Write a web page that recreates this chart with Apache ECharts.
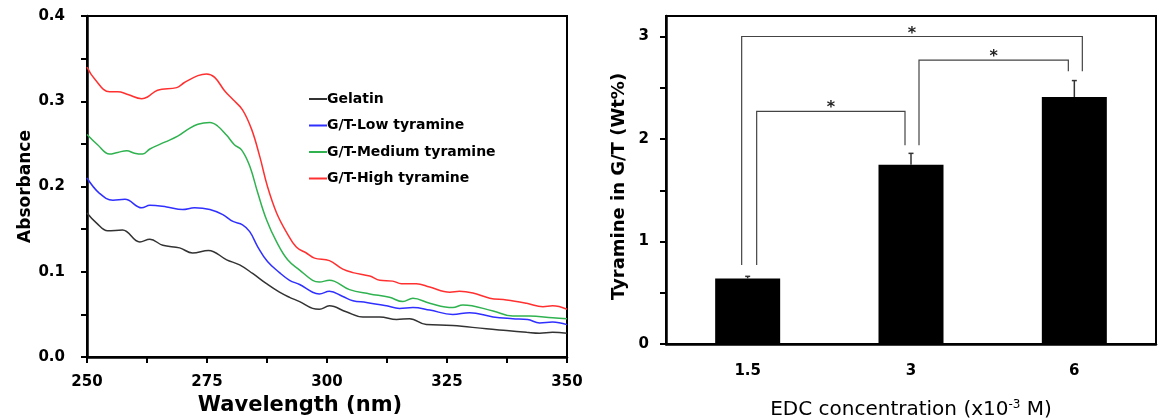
<!DOCTYPE html>
<html><head><meta charset="utf-8">
<script src="https://cdn.jsdelivr.net/npm/echarts/dist/echarts.min.js"></script>
<style>html,body{margin:0;padding:0;background:#fff}#c{width:1158px;height:420px}</style>
</head><body><div id="c"></div>
<script>
// ---- Left panel: UV-Vis absorbance spectra ----
const seriesNames = ['Gelatin', 'G/T-Low tyramine', 'G/T-Medium tyramine', 'G/T-High tyramine'];

const gelatinNm  = [250, 252, 254.3, 257.4, 261, 263.1, 265.8, 269.3, 272, 275.3, 279.1, 281.8, 284.5, 287.4, 290.1, 292.2, 294.3, 297, 298.4, 300.5, 304, 307.5, 311, 314.5, 317.2, 320.7, 326.2, 333.2, 337.4, 341.6, 344.3, 347, 350];
const gelatinAbs = [0.169, 0.157, 0.148, 0.149, 0.135, 0.138, 0.131, 0.128, 0.122, 0.125, 0.114, 0.108, 0.098, 0.086, 0.076, 0.070, 0.065, 0.057, 0.056, 0.060, 0.053, 0.047, 0.047, 0.044, 0.045, 0.038, 0.037, 0.033, 0.031, 0.029, 0.028, 0.029, 0.028];

const lowNm  = [250, 252.6, 255.4, 257.9, 261.4, 263.1, 266.6, 269.9, 272.4, 275.6, 278.3, 280.4, 282.4, 283.9, 285.6, 287.6, 290.1, 292.2, 294.3, 297, 298.4, 300.5, 303.3, 305.4, 308.2, 312.4, 315.1, 317.9, 321.4, 326.2, 329.7, 334.6, 338.7, 341.8, 344.3, 347, 350];
const lowAbs = [0.210, 0.192, 0.184, 0.185, 0.175, 0.178, 0.176, 0.173, 0.175, 0.173, 0.167, 0.159, 0.155, 0.147, 0.129, 0.112, 0.099, 0.090, 0.085, 0.076, 0.074, 0.077, 0.071, 0.066, 0.064, 0.060, 0.057, 0.058, 0.055, 0.050, 0.052, 0.047, 0.045, 0.044, 0.040, 0.041, 0.038];

const mediumNm  = [250, 252.2, 254.7, 256.4, 258.3, 259.9, 261.6, 263.1, 266.2, 268.9, 271, 273.1, 275.6, 277.2, 279.1, 280.7, 282.2, 283.9, 285.6, 287.4, 289.5, 291.8, 294.3, 297, 298.4, 300.5, 304.7, 308.9, 313, 315.8, 317.9, 321.4, 326.2, 328.3, 334.6, 338.7, 342.2, 347, 350];
const mediumAbs = [0.261, 0.249, 0.238, 0.240, 0.242, 0.239, 0.238, 0.244, 0.252, 0.259, 0.267, 0.273, 0.275, 0.271, 0.260, 0.249, 0.243, 0.224, 0.192, 0.161, 0.135, 0.114, 0.102, 0.090, 0.088, 0.090, 0.079, 0.074, 0.070, 0.065, 0.069, 0.063, 0.058, 0.061, 0.054, 0.048, 0.048, 0.046, 0.045];

const highNm  = [250, 251.6, 254.7, 256.4, 258.5, 261.4, 262.6, 264.7, 268.7, 270.3, 273.1, 274.9, 276.6, 278.7, 280.4, 282.4, 284.3, 286, 287.6, 289.5, 291.6, 293.6, 295.7, 297.4, 300.5, 303.3, 305.4, 308.9, 311, 313.7, 315.5, 318.6, 321.4, 325.6, 327.6, 330.4, 333.9, 337.4, 341.6, 345, 347, 350];
const highAbs = [0.340, 0.326, 0.311, 0.311, 0.308, 0.303, 0.305, 0.313, 0.316, 0.322, 0.330, 0.332, 0.328, 0.312, 0.302, 0.290, 0.267, 0.235, 0.200, 0.169, 0.146, 0.129, 0.122, 0.116, 0.113, 0.103, 0.099, 0.095, 0.090, 0.089, 0.086, 0.086, 0.082, 0.076, 0.077, 0.075, 0.069, 0.067, 0.063, 0.059, 0.060, 0.056];

// ---- Right panel: tyramine content ----
const edcCategories = ['1.5', '3', '6'];
const tyramineWt    = [0.64, 1.75, 2.41];
const tyramineErr   = [0.02, 0.11, 0.16];
// significance brackets: from category, to category, bracket height, left leg end, right leg end
const sigFrom     = [0, 0, 1];
const sigTo       = [2, 1, 2];
const sigTop      = [3.0, 2.27, 2.77];
const sigLeftEnd  = [0.77, 0.77, 1.94];
const sigRightEnd = [2.66, 1.94, 2.66];
const sigLabel    = ['*', '*', '*'];

// styling (pixel offsets of bracket legs from category centre)
const legOffL = [-6, 9, 8];
const legOffR = [8, -6, -6];

const F = 'DejaVu Sans';
const black = '#000';
const lineColors = ['#333333', '#2f2fff', '#2fb24f', '#ff3030'];

const pairs = (xs, ys) => xs.map((x, i) => [x, ys[i]]);
const spectra = [pairs(gelatinNm, gelatinAbs), pairs(lowNm, lowAbs), pairs(mediumNm, mediumAbs), pairs(highNm, highAbs)];

const axisLine = { lineStyle: { color: black, width: 2.5 } };
const tickStyle = { color: black, width: 2 };

const chart = echarts.init(document.getElementById('c'), null, { renderer: 'canvas' });
chart.setOption({
  animation: false,
  backgroundColor: '#fff',
  grid: [
    { left: 87, top: 16, width: 480, height: 341, show: true, borderColor: black, borderWidth: 2, containLabel: false, outerBoundsMode: 'none' },
    { left: 666, top: 16, width: 490, height: 328, show: true, borderColor: black, borderWidth: 2, containLabel: false, outerBoundsMode: 'none' }
  ],
  legend: {
    data: seriesNames,
    orient: 'vertical',
    left: 304, top: 84,
    icon: 'rect', itemWidth: 18, itemHeight: 2, itemGap: 6.5,
    textStyle: { fontFamily: F, fontWeight: 'bold', fontSize: 14, color: black, lineHeight: 20, padding: [0, 0, 0, -5] }
  },
  xAxis: [
    {
      gridIndex: 0, type: 'value', min: 250, max: 350, interval: 25,
      axisLine, axisTick: { length: 6, lineStyle: tickStyle },
      minorTick: { show: true, splitNumber: 2, length: 6, lineStyle: tickStyle },
      splitLine: { show: false },
      axisLabel: { color: black, fontFamily: F, fontWeight: 'bold', fontSize: 15, margin: 18 },
      name: 'Wavelength (nm)', nameLocation: 'middle', nameGap: 37,
      nameTextStyle: { color: black, fontFamily: F, fontWeight: 'bold', fontSize: 21, padding: [0, 54, 0, 0] }
    },
    {
      gridIndex: 1, type: 'category', data: edcCategories,
      axisLine, axisTick: { length: 7, lineStyle: tickStyle },
      axisLabel: { color: black, fontFamily: F, fontWeight: 'bold', fontSize: 15, margin: 20 },
      name: 'EDC concentration (x10{sup|-3} M)', nameLocation: 'middle', nameGap: 55,
      nameTextStyle: {
        color: black, fontFamily: F, fontSize: 20,
        rich: { sup: { fontFamily: F, fontSize: 12, color: black, verticalAlign: 'top', padding: [0, 0, 9, 0] } }
      }
    }
  ],
  yAxis: [
    {
      gridIndex: 0, type: 'value', min: 0, max: 0.4, interval: 0.1,
      axisLine: Object.assign({ show: true }, axisLine), axisTick: { show: true, length: 6, lineStyle: tickStyle },
      minorTick: { show: true, splitNumber: 2, length: 6, lineStyle: tickStyle },
      splitLine: { show: false },
      axisLabel: { color: black, fontFamily: F, fontWeight: 'bold', fontSize: 15, margin: 22, formatter: v => v.toFixed(1) },
      name: 'Absorbance', nameLocation: 'middle', nameGap: 52,
      nameTextStyle: { color: black, fontFamily: F, fontWeight: 'bold', fontSize: 17 }
    },
    {
      gridIndex: 1, type: 'value', min: 0, max: 3.2, interval: 0.5,
      axisLine: Object.assign({ show: true }, axisLine), axisTick: { show: true, length: 6, lineStyle: tickStyle },
      splitLine: { show: false },
      axisLabel: { color: black, fontFamily: F, fontWeight: 'bold', fontSize: 15, margin: 17, showMaxLabel: false,
        formatter: v => (Math.abs(v - Math.round(v)) < 1e-6 ? String(Math.round(v)) : '') },
      name: 'Tyramine in G/T (Wt%)', nameLocation: 'middle', nameGap: 38,
      nameTextStyle: { color: black, fontFamily: F, fontWeight: 'bold', fontSize: 18, padding: [0, 13, 0, 0] }
    }
  ],
  series: [
    ...spectra.map((d, i) => ({
      name: seriesNames[i], type: 'line', xAxisIndex: 0, yAxisIndex: 0,
      data: d, smooth: 0.4, showSymbol: false, symbol: 'none',
      lineStyle: { color: lineColors[i], width: 1.5 }, itemStyle: { color: lineColors[i] }
    })),
    {
      type: 'bar', xAxisIndex: 1, yAxisIndex: 1, data: tyramineWt, barWidth: 65,
      itemStyle: { color: black }, z: 2
    },
    {
      type: 'custom', xAxisIndex: 1, yAxisIndex: 1, z: 3,
      data: edcCategories.map((c, i) => [i, tyramineWt[i], tyramineWt[i] + tyramineErr[i]]),
      renderItem(params, api) {
        const p0 = api.coord([api.value(0), api.value(1)]);
        const p1 = api.coord([api.value(0), api.value(2)]);
        const st = { stroke: '#333', lineWidth: 1.5 };
        return { type: 'group', children: [
          { type: 'line', shape: { x1: p0[0], y1: p0[1], x2: p1[0], y2: p1[1] }, style: st },
          { type: 'line', shape: { x1: p1[0] - 2.5, y1: p1[1], x2: p1[0] + 2.5, y2: p1[1] }, style: st }
        ]};
      }
    },
    {
      type: 'custom', xAxisIndex: 1, yAxisIndex: 1, z: 4, clip: false,
      data: sigFrom.map((f, k) => [f, sigTo[k], sigTop[k], sigLeftEnd[k], sigRightEnd[k]]),
      renderItem(params, api) {
        const k = params.dataIndex;
        const f = api.value(0), t = api.value(1);
        const top = api.coord([f, api.value(2)])[1];
        const xl = api.coord([f, 0])[0] + legOffL[k];
        const xr = api.coord([t, 0])[0] + legOffR[k];
        const yl = api.coord([f, api.value(3)])[1];
        const yr = api.coord([t, api.value(4)])[1];
        return { type: 'group', children: [
          { type: 'polyline', shape: { points: [[xl, yl], [xl, top], [xr, top], [xr, yr]] },
            style: { stroke: '#444', lineWidth: 1.2, fill: null } },
          { type: 'text', x: (xl + xr) / 2, y: top + 5,
            style: { text: sigLabel[k], fontFamily: F, fontWeight: 'bold', fontSize: 16, fill: '#222',
                     align: 'center', verticalAlign: 'bottom' } }
        ]};
      }
    }
  ]
});
</script>
</body></html>
